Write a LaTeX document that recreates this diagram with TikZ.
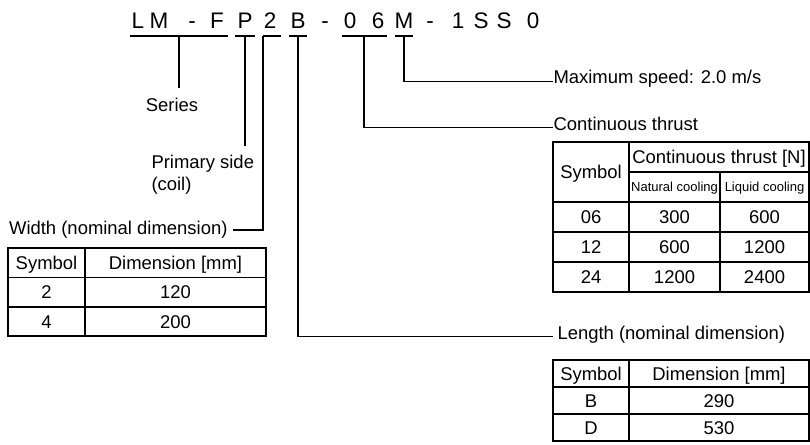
\documentclass[tikz,border=0pt]{standalone}
\usepackage{fontspec}
\setmainfont{Liberation Sans}
\usetikzlibrary{positioning}

\begin{document}
\begin{tikzpicture}[
    x=0.02cm, y=-0.02cm,
    line width=0.6pt,
    code/.style={font=\fontsize{12.8}{15}\selectfont, inner sep=0, anchor=base},
    lbl/.style={font=\fontsize{10.5}{12.2}\selectfont, inner sep=0},
    cell/.style={font=\fontsize{10.5}{12.2}\selectfont, inner sep=0, text height=7.5pt, text depth=0pt},
    tiny/.style={font=\fontsize{7.4}{9}\selectfont, inner sep=0, text height=5.3pt, text depth=0pt}
  ]
    \useasboundingbox (0,0) rectangle (810,444);

    % model code
    \foreach \ch/\px [count=\i] in {L/138, M/159, -/192, F/217, P/245, 2/270, B/298, -/325,
                                    0/350, 6/378, M/404, -/430, 1/458, S/481, S/504, 0/533}
      \node[code] (c\i) at (\px,28) {\ch};
    \foreach \a/\b in {130/228, 235/255, 263/281, 289/307, 342/387, 395/413}
      \draw (\a,36) -- (\b,36);
    \coordinate (sSer) at (179,36);
    \coordinate (sP) at (245,36);
    \coordinate (s2) at (263,36);
    \coordinate (sB) at (298,36);
    \coordinate (s06) at (364,36);
    \coordinate (sM) at (404,36);

    % labels
    \node[lbl] (series) at (172,105) {Series};
    \node[lbl, align=left, anchor=north west] (prim) at (151,155) {Primary side\\(coil)};
    \node[lbl, anchor=east] (width) at (228,230) {Width (nominal dimension)};
    \node[lbl, anchor=west] (maxsp) at (553,79) {Maximum speed: 2.0 m/s};
    \node[lbl, anchor=west] (thrust) at (553,124) {Continuous thrust};
    \node[lbl, anchor=west] (length) at (557,335) {Length (nominal dimension)};

    \draw[shorten >=5.5pt] (sSer) -- (sSer |- series.north);
    \draw[shorten >=5pt] (sP) -- (sP |- prim.north);
    \draw (s2) |- ([xshift=2.8pt]width.east);
    \draw (sB) |- ([xshift=-2.3pt, yshift=-1pt]length.west);
    \draw (s06) |- ([yshift=-2pt]thrust.west);
    \draw (sM) |- ([yshift=-1.5pt]maxsp.west);

    % width table
    \draw (8,248) rectangle (266,336);
    \draw (8,277.5) -- (266,277.5) (8,307) -- (266,307) (85,248) -- (85,336);
    \node[cell] (w1s) at (46.5,262.75) {Symbol};
    \node[cell] (w1d) at (175.5,262.75) {Dimension [mm]};
    \node[cell] (w2s) at (46.5,292.25) {2};
    \node[cell] (w2d) at (175.5,292.25) {120};
    \node[cell] (w3s) at (46.5,321.75) {4};
    \node[cell] (w3d) at (175.5,321.75) {200};

    % thrust table
    \draw (553,142) rectangle (809,292);
    \draw (629,172) -- (809,172) (553,202) -- (809,202) (553,232) -- (809,232) (553,262) -- (809,262);
    \draw (629,142) -- (629,292) (720,172) -- (720,292);
    \node[cell] (t0s) at (591,172) {Symbol};
    \node[cell] (t0h) at (719,157) {Continuous thrust [N]};
    \node[tiny] (t0n) at (674.5,187) {Natural cooling};
    \node[tiny] (t0l) at (764.5,187) {Liquid cooling};
    \foreach \s/\n/\l [count=\r] in {06/300/600, 12/600/1200, 24/1200/2400} {
      \node[cell] (t\r s) at (591,187+30*\r) {\s};
      \node[cell] (t\r n) at (674.5,187+30*\r) {\n};
      \node[cell] (t\r l) at (764.5,187+30*\r) {\l};
    }

    % length table
    \draw (553,360) rectangle (809,441);
    \draw (553,387) -- (809,387) (553,414) -- (809,414) (629,360) -- (629,441);
    \node[cell] (l1s) at (591,373.5) {Symbol};
    \node[cell] (l1d) at (719,373.5) {Dimension [mm]};
    \node[cell] (l2s) at (591,400.5) {B};
    \node[cell] (l2d) at (719,400.5) {290};
    \node[cell] (l3s) at (591,427.5) {D};
    \node[cell] (l3d) at (719,427.5) {530};
\end{tikzpicture}
\end{document}
